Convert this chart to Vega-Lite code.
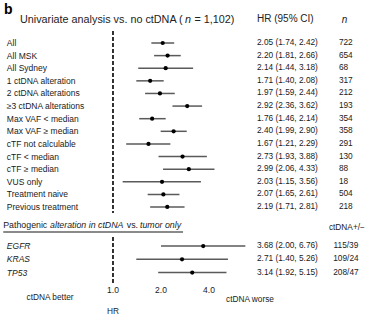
{
  "$schema": "https://vega.github.io/schema/vega-lite/v6.json",
  "width": 371,
  "height": 322,
  "padding": 0,
  "autosize": {"type": "fit", "contains": "padding"},
  "config": {
    "view": {"stroke": null},
    "text": {"font": "Liberation Sans", "baseline": "middle", "color": "#1a1a1a"}
  },
  "datasets": {
    "rows": [
      {"section": "top", "label": "All", "hr": 2.05, "lo": 1.74, "hi": 2.42, "ci": "2.05 (1.74, 2.42)", "n": "722", "row": 1},
      {"section": "top", "label": "All MSK", "hr": 2.20, "lo": 1.81, "hi": 2.66, "ci": "2.20 (1.81, 2.66)", "n": "654", "row": 2},
      {"section": "top", "label": "All Sydney", "hr": 2.14, "lo": 1.44, "hi": 3.18, "ci": "2.14 (1.44, 3.18)", "n": "68", "row": 3},
      {"section": "top", "label": "1 ctDNA alteration", "hr": 1.71, "lo": 1.40, "hi": 2.08, "ci": "1.71 (1.40, 2.08)", "n": "317", "row": 4},
      {"section": "top", "label": "2 ctDNA alterations", "hr": 1.97, "lo": 1.59, "hi": 2.44, "ci": "1.97 (1.59, 2.44)", "n": "212", "row": 5},
      {"section": "top", "label": "≥3 ctDNA alterations", "hr": 2.92, "lo": 2.36, "hi": 3.62, "ci": "2.92 (2.36, 3.62)", "n": "193", "row": 6},
      {"section": "top", "label": "Max VAF < median", "hr": 1.76, "lo": 1.46, "hi": 2.14, "ci": "1.76 (1.46, 2.14)", "n": "354", "row": 7},
      {"section": "top", "label": "Max VAF ≥ median", "hr": 2.40, "lo": 1.99, "hi": 2.90, "ci": "2.40 (1.99, 2.90)", "n": "358", "row": 8},
      {"section": "top", "label": "cTF not calculable", "hr": 1.67, "lo": 1.21, "hi": 2.29, "ci": "1.67 (1.21, 2.29)", "n": "291", "row": 9},
      {"section": "top", "label": "cTF < median", "hr": 2.73, "lo": 1.93, "hi": 3.88, "ci": "2.73 (1.93, 3.88)", "n": "130", "row": 10},
      {"section": "top", "label": "cTF ≥ median", "hr": 2.99, "lo": 2.06, "hi": 4.33, "ci": "2.99 (2.06, 4.33)", "n": "88", "row": 11},
      {"section": "top", "label": "VUS only", "hr": 2.03, "lo": 1.15, "hi": 3.56, "ci": "2.03 (1.15, 3.56)", "n": "18", "row": 12},
      {"section": "top", "label": "Treatment naive", "hr": 2.07, "lo": 1.65, "hi": 2.61, "ci": "2.07 (1.65, 2.61)", "n": "504", "row": 13},
      {"section": "top", "label": "Previous treatment", "hr": 2.19, "lo": 1.71, "hi": 2.81, "ci": "2.19 (1.71, 2.81)", "n": "218", "row": 14},
      {"section": "gene", "label": "EGFR", "hr": 3.68, "lo": 2.00, "hi": 6.76, "ci": "3.68 (2.00, 6.76)", "n": "115/39", "row": 17.1},
      {"section": "gene", "label": "KRAS", "hr": 2.71, "lo": 1.40, "hi": 5.26, "ci": "2.71 (1.40, 5.26)", "n": "109/24", "row": 18.15},
      {"section": "gene", "label": "TP53", "hr": 3.14, "lo": 1.92, "hi": 5.15, "ci": "3.14 (1.92, 5.15)", "n": "208/47", "row": 19.2}
    ],
    "ticks": [
      {"v": 1, "t": "1.0"},
      {"v": 2, "t": "2.0"},
      {"v": 4, "t": "4.0"}
    ],
    "one": [{}]
  },
  "encoding": {
    "x": {"type": "quantitative", "scale": {"type": "log", "domain": [0.1956, 41.5], "nice": false, "zero": false}, "axis": null},
    "y": {"type": "quantitative", "scale": {"domain": [-2.409, 23.117], "nice": false, "zero": false, "reverse": true}, "axis": null}
  },
  "layer": [
    {
      "data": {"name": "one"},
      "mark": {"type": "rule", "color": "#000", "strokeWidth": 1.6, "strokeDash": [4, 2]},
      "encoding": {"x": {"datum": 1}, "y": {"datum": 0.05}, "y2": {"datum": 14.48}}
    },
    {
      "data": {"name": "one"},
      "mark": {"type": "rule", "color": "#000", "strokeWidth": 1.6, "strokeDash": [4, 2]},
      "encoding": {"x": {"datum": 1}, "y": {"datum": 16.38}, "y2": {"datum": 20.03}}
    },
    {
      "data": {"name": "one"},
      "mark": {"type": "rule", "color": "#8a8a8a", "strokeWidth": 2},
      "encoding": {"x": {"datum": 0.205}, "x2": {"datum": 2.75}, "y": {"datum": 15.98}}
    },
    {
      "data": {"name": "rows"},
      "mark": {"type": "rule", "color": "#5a5a5a", "strokeWidth": 1.5},
      "encoding": {"x": {"field": "lo"}, "x2": {"field": "hi"}, "y": {"field": "row"}}
    },
    {
      "data": {"name": "rows"},
      "mark": {"type": "point", "filled": true, "color": "#000", "size": 18, "opacity": 1},
      "encoding": {"x": {"field": "hr"}, "y": {"field": "row"}}
    },
    {
      "data": {"name": "rows"},
      "transform": [{"filter": "datum.section === 'top'"}],
      "mark": {"type": "text", "align": "left", "fontSize": 8.5},
      "encoding": {"x": {"datum": 0.216}, "y": {"field": "row"}, "text": {"field": "label"}}
    },
    {
      "data": {"name": "rows"},
      "transform": [{"filter": "datum.section === 'gene'"}],
      "mark": {"type": "text", "align": "left", "fontSize": 8.5, "fontStyle": "italic"},
      "encoding": {"x": {"datum": 0.216}, "y": {"field": "row"}, "text": {"field": "label"}}
    },
    {
      "data": {"name": "rows"},
      "mark": {"type": "text", "align": "left", "fontSize": 8.3},
      "encoding": {"x": {"datum": 8.0}, "y": {"field": "row"}, "text": {"field": "ci"}}
    },
    {
      "data": {"name": "rows"},
      "transform": [{"filter": "datum.section === 'top'"}],
      "mark": {"type": "text", "align": "left", "fontSize": 8.3},
      "encoding": {"x": {"datum": 26.1}, "y": {"field": "row"}, "text": {"field": "n"}}
    },
    {
      "data": {"name": "rows"},
      "transform": [{"filter": "datum.section === 'gene'"}],
      "mark": {"type": "text", "align": "center", "fontSize": 8.3},
      "encoding": {"x": {"datum": 28.9}, "y": {"field": "row"}, "text": {"field": "n"}}
    },
    {
      "data": {"name": "ticks"},
      "mark": {"type": "text", "align": "center", "fontSize": 8.5},
      "encoding": {"x": {"field": "v"}, "y": {"datum": 20.58}, "text": {"field": "t"}}
    },
    {
      "data": {"name": "one"},
      "mark": {"type": "text", "align": "left", "fontSize": 14, "fontWeight": "bold", "text": "b", "color": "#000"},
      "encoding": {"x": {"datum": 0.207}, "y": {"datum": -1.6}}
    },
    {
      "data": {"name": "one"},
      "mark": {"type": "text", "align": "left", "fontSize": 10.8, "text": "Univariate analysis vs. no ctDNA (", "color": "#222"},
      "encoding": {"x": {"datum": 0.261}, "y": {"datum": -0.85}}
    },
    {
      "data": {"name": "one"},
      "mark": {"type": "text", "align": "left", "fontSize": 10.8, "fontStyle": "italic", "text": "n", "color": "#222"},
      "encoding": {"x": {"datum": 2.83}, "y": {"datum": -0.85}}
    },
    {
      "data": {"name": "one"},
      "mark": {"type": "text", "align": "left", "fontSize": 10.8, "text": "= 1,102)", "color": "#222"},
      "encoding": {"x": {"datum": 3.24}, "y": {"datum": -0.85}}
    },
    {
      "data": {"name": "one"},
      "mark": {"type": "text", "align": "left", "fontSize": 10, "text": "HR (95% CI)", "color": "#222"},
      "encoding": {"x": {"datum": 8.0}, "y": {"datum": -0.9}}
    },
    {
      "data": {"name": "one"},
      "mark": {"type": "text", "align": "center", "fontSize": 10, "fontStyle": "italic", "text": "n", "color": "#222"},
      "encoding": {"x": {"datum": 28.3}, "y": {"datum": -0.85}}
    },
    {
      "data": {"name": "one"},
      "mark": {"type": "text", "align": "left", "fontSize": 8.8, "text": "Pathogenic"},
      "encoding": {"x": {"datum": 0.205}, "y": {"datum": 15.43}}
    },
    {
      "data": {"name": "one"},
      "mark": {"type": "text", "align": "left", "fontSize": 8.8, "fontStyle": "italic", "text": "alteration in ctDNA"},
      "encoding": {"x": {"datum": 0.403}, "y": {"datum": 15.43}}
    },
    {
      "data": {"name": "one"},
      "mark": {"type": "text", "align": "left", "fontSize": 8.8, "text": "vs."},
      "encoding": {"x": {"datum": 1.22}, "y": {"datum": 15.43}}
    },
    {
      "data": {"name": "one"},
      "mark": {"type": "text", "align": "left", "fontSize": 8.8, "fontStyle": "italic", "text": "tumor only"},
      "encoding": {"x": {"datum": 1.477}, "y": {"datum": 15.43}}
    },
    {
      "data": {"name": "one"},
      "mark": {"type": "text", "align": "center", "fontSize": 8.3, "text": "ctDNA+/−"},
      "encoding": {"x": {"datum": 29.3}, "y": {"datum": 15.67}}
    },
    {
      "data": {"name": "one"},
      "mark": {"type": "text", "align": "center", "fontSize": 8.3, "text": "ctDNA better"},
      "encoding": {"x": {"datum": 0.403}, "y": {"datum": 21.21}}
    },
    {
      "data": {"name": "one"},
      "mark": {"type": "text", "align": "center", "fontSize": 8.3, "text": "ctDNA worse"},
      "encoding": {"x": {"datum": 7.23}, "y": {"datum": 21.37}}
    },
    {
      "data": {"name": "one"},
      "mark": {"type": "text", "align": "center", "fontSize": 8.3, "text": "HR"},
      "encoding": {"x": {"datum": 1}, "y": {"datum": 22.32}}
    }
  ]
}
